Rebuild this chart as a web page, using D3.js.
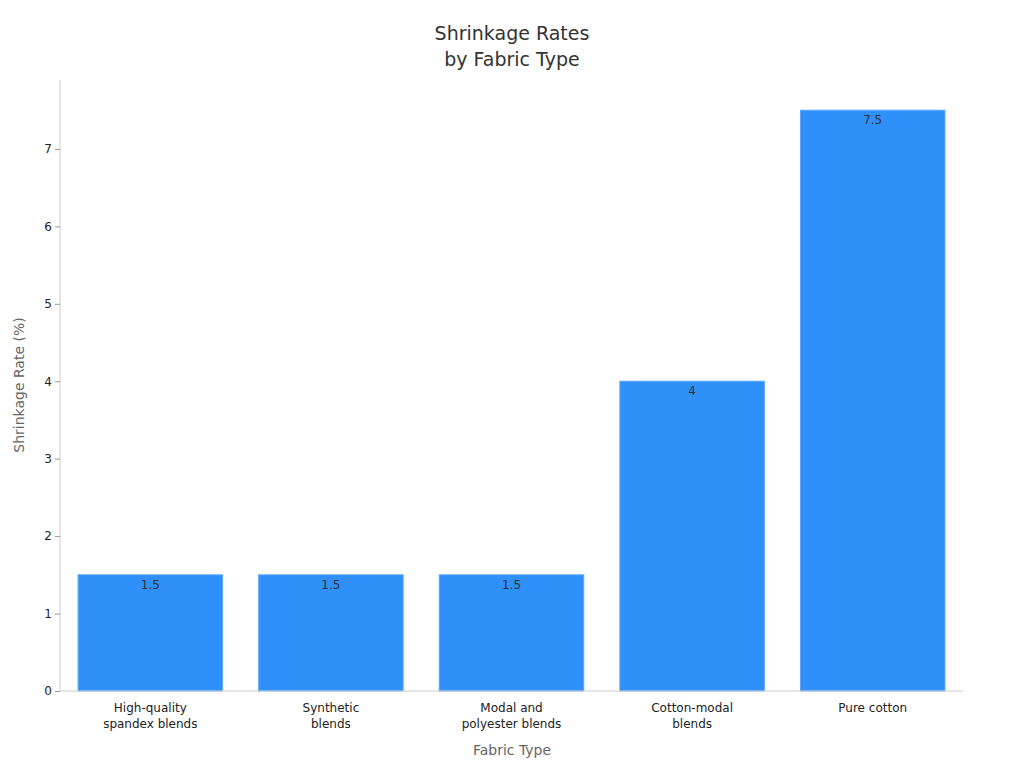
<!DOCTYPE html>
<html><head><meta charset="utf-8">
<script src="https://cdn.jsdelivr.net/npm/d3@7"></script>
<style>body{margin:0;background:#fff;font-family:"DejaVu Sans",sans-serif}</style>
</head><body><svg id="c" width="1024" height="768"></svg>
<script>
const categories = [["High-quality","spandex blends"],["Synthetic","blends"],["Modal and","polyester blends"],["Cotton-modal","blends"],["Pure cotton"]];
const values = [1.5,1.5,1.5,4,7.5];
const labels = ["1.5","1.5","1.5","4","7.5"];
const yTicks = [0,1,2,3,4,5,6,7];

const svg = d3.select("#c");
const m = {l:60, r:963, t:80, b:691};
const x = d3.scaleBand().domain(d3.range(values.length)).range([m.l,m.r]).paddingInner(0.2).paddingOuter(0.1);
const y = d3.scaleLinear().domain([0,7.89]).range([m.b,m.t]);

svg.selectAll("rect.bar").data(values).join("rect").attr("class","bar")
  .attr("x",(d,i)=>x(i)).attr("width",x.bandwidth())
  .attr("y",d=>y(d)).attr("height",d=>y(0)-y(d))
  .attr("fill","#2e90f8").attr("stroke","#5aa8fa").attr("stroke-width",1);

svg.selectAll("text.val").data(values).join("text").attr("class","val")
  .attr("x",(d,i)=>x(i)+x.bandwidth()/2).attr("y",d=>y(d)+14)
  .attr("text-anchor","middle").attr("font-size",12).attr("fill","#333")
  .text((d,i)=>labels[i]);

const ya = svg.append("g").attr("transform",`translate(${m.l},0)`)
  .call(d3.axisLeft(y).tickValues(yTicks).tickSize(5).tickFormat(d3.format("d")));
ya.selectAll("text").attr("font-size",12).attr("fill","#222").attr("font-family","DejaVu Sans");
ya.selectAll("line").attr("stroke","#999");
ya.select(".domain").attr("stroke","#ccc").attr("d",`M0,${m.t}V${m.b}`);

const xa = svg.append("g").attr("transform",`translate(0,${m.b})`)
  .call(d3.axisBottom(x).tickSize(0).tickFormat(""));
xa.select(".domain").attr("stroke","#ccc").attr("d",`M${m.l},0H${m.r}`);
xa.selectAll(".tick").each(function(d){
  const t = d3.select(this).append("text").attr("fill","#222").attr("font-size",12)
    .attr("text-anchor","middle").attr("font-family","DejaVu Sans");
  categories[d].forEach((s,k)=>t.append("tspan").attr("x",0).attr("y",21+k*16).text(s));
});

svg.append("text").attr("x",512).attr("y",40).attr("text-anchor","middle").attr("font-size",19).attr("fill","#333").text("Shrinkage Rates");
svg.append("text").attr("x",512).attr("y",66).attr("text-anchor","middle").attr("font-size",19).attr("fill","#333").text("by Fabric Type");
svg.append("text").attr("x",512).attr("y",755).attr("text-anchor","middle").attr("font-size",14).attr("fill","#666").text("Fabric Type");
svg.append("text").attr("transform","translate(24,385) rotate(-90)").attr("text-anchor","middle").attr("font-size",14).attr("fill","#666").text("Shrinkage Rate (%)");
</script></body></html>
